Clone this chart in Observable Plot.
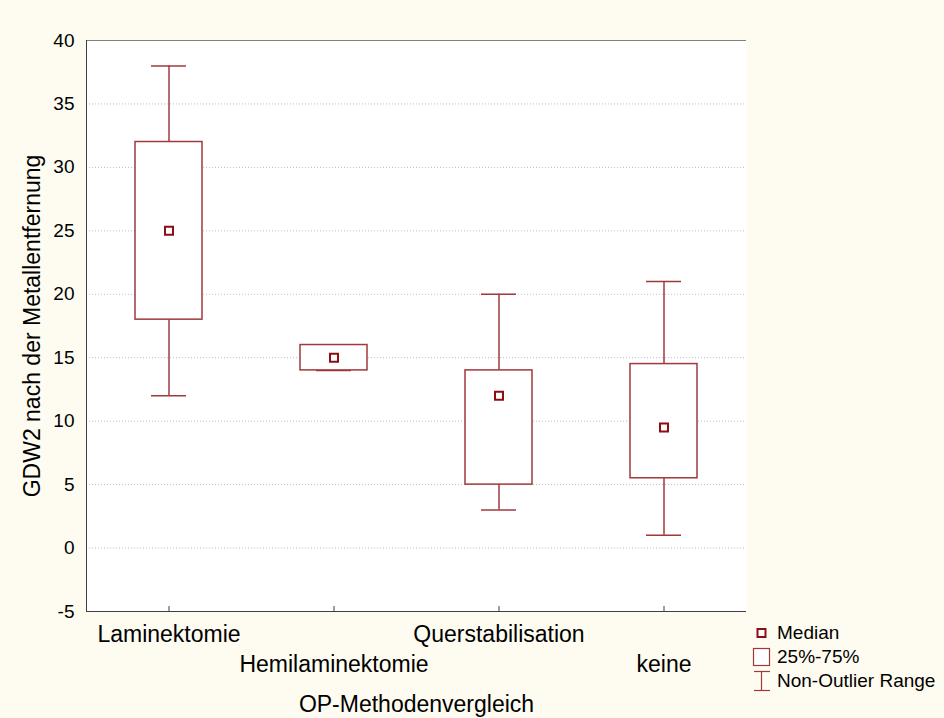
<!DOCTYPE html>
<html>
<head>
<meta charset="utf-8">
<script src="https://cdn.jsdelivr.net/npm/d3@7"></script>
<script src="https://cdn.jsdelivr.net/npm/@observablehq/plot@0.6"></script>
<style>
  html, body { margin: 0; padding: 0; background: #fefcf0; }
  #wrap { position: relative; width: 944px; height: 718px; font-family: "Liberation Sans", Arial, sans-serif; }
  #legend { position: absolute; left: 752px; top: 621px; font-size: 19px; color: #000; }
  #legend div { display: flex; align-items: center; height: 24px; }
  #legend svg { width: 20px; height: 24px; margin-right: 5px; flex: none; }
</style>
</head>
<body>
<div id="wrap"></div>
<script>
// Surgical method groups and their box-plot summaries
const methods = ["Laminektomie", "Hemilaminektomie", "Querstabilisation", "keine"];
const rangeLow  = [12, 14, 3, 1];
const q25       = [18, 14, 5, 5.5];
const median    = [25, 15, 12, 9.5];
const q75       = [32, 16, 14, 14.5];
const rangeHigh = [38, 16, 20, 21];
const yTicks = [-5, 0, 5, 10, 15, 20, 25, 30, 35, 40];

const rows = methods.map((m, i) => ({
  method: m, lo: rangeLow[i], q1: q25[i], med: median[i], q3: q75[i], hi: rangeHigh[i]
}));

const red = "#a0393b";
const font = "Liberation Sans, Arial, sans-serif";

// left edge of the plot frame, drawn from the layout dimensions
function leftEdge(index, scales, values, dims) {
  const line = document.createElementNS("http://www.w3.org/2000/svg", "line");
  const x = dims.marginLeft + 0.5;
  line.setAttribute("x1", x);
  line.setAttribute("x2", x);
  line.setAttribute("y1", dims.marginTop);
  line.setAttribute("y2", dims.height - dims.marginBottom);
  line.setAttribute("stroke", "#404040");
  return line;
}

const chart = Plot.plot({
  width: 944,
  height: 718,
  marginLeft: 86,
  marginTop: 40,
  marginRight: 198,
  marginBottom: 107,
  style: { background: "transparent", fontFamily: font, fontSize: "19px", color: "#000" },
  x: { type: "band", domain: methods, padding: 0, align: 0.5 },
  y: { type: "linear", domain: [-5, 40], ticks: yTicks },
  marks: [
    Plot.frame({ fill: "white", stroke: null }),
    // dotted horizontal grid
    Plot.ruleY(yTicks.filter(t => t > -5 && t < 40), { stroke: "#bdbdbd", strokeDasharray: "1,2", strokeWidth: 1 }),
    // plot frame: top, bottom, left
    Plot.ruleY([40], { stroke: "#808080", strokeWidth: 1 }),
    Plot.ruleY([-5], { stroke: "#404040", strokeWidth: 1 }),
    leftEdge,
    // y axis labels
    Plot.axisY({ ticks: yTicks, tickSize: 0, tickPadding: 12, label: null, fontSize: 19, tickFormat: d => String(d) }),
    // small category ticks pointing up from the bottom edge
    Plot.axisX({ tickSize: 5, dy: -5, tickFormat: () => "", label: null, stroke: "#404040" }),
    // staggered category labels
    Plot.axisX([methods[0], methods[2]], { tickSize: 0, tickPadding: 14, label: null, fontSize: 23 }),
    Plot.axisX([methods[1], methods[3]], { tickSize: 0, tickPadding: 44, label: null, fontSize: 23 }),
    // whiskers and caps
    Plot.ruleX(rows, { x: "method", y1: "hi", y2: "q3", stroke: red, strokeWidth: 1.5 }),
    Plot.ruleX(rows, { x: "method", y1: "q1", y2: "lo", stroke: red, strokeWidth: 1.5 }),
    Plot.tickY(rows, { x: "method", y: "hi", stroke: red, strokeWidth: 1.5, insetLeft: 65, insetRight: 65 }),
    Plot.tickY(rows, { x: "method", y: "lo", stroke: red, strokeWidth: 1.5, insetLeft: 65, insetRight: 65 }),
    // interquartile boxes
    Plot.barY(rows, { x: "method", y1: "q1", y2: "q3", fill: "white", stroke: red, strokeWidth: 1.5, insetLeft: 49, insetRight: 49 }),
    // medians
    Plot.dot(rows, { x: "method", y: "med", symbol: "square", r: 4.5, fill: "white", stroke: "#8b0f12", strokeWidth: 2 }),
    // axis titles
    Plot.text(["OP-Methodenvergleich"], { frameAnchor: "bottom", dy: 100, fontSize: 23, fill: "#000" }),
    Plot.text(["GDW2 nach der Metallentfernung"], { frameAnchor: "left", textAnchor: "middle", rotate: -90, dx: -54, fontSize: 23, fill: "#000" })
  ]
});

const wrap = document.getElementById("wrap");
wrap.appendChild(chart);

const legend = document.createElement("div");
legend.id = "legend";
legend.innerHTML = `
  <div><svg viewBox="0 0 20 24"><rect x="5.5" y="8" width="8" height="8" fill="white" stroke="#8b0f12" stroke-width="2"/></svg>Median</div>
  <div><svg viewBox="0 0 20 24"><rect x="1.5" y="3.5" width="16" height="17" fill="white" stroke="${red}" stroke-width="1.2"/></svg>25%-75%</div>
  <div><svg viewBox="0 0 20 24"><line x1="2" x2="18" y1="2.5" y2="2.5" stroke="${red}" stroke-width="1.2"/><line x1="9.5" x2="9.5" y1="2.5" y2="21.5" stroke="${red}" stroke-width="1.2"/><line x1="2" x2="18" y1="21.5" y2="21.5" stroke="${red}" stroke-width="1.2"/></svg>Non-Outlier Range</div>
`;
wrap.appendChild(legend);
</script>
</body>
</html>
